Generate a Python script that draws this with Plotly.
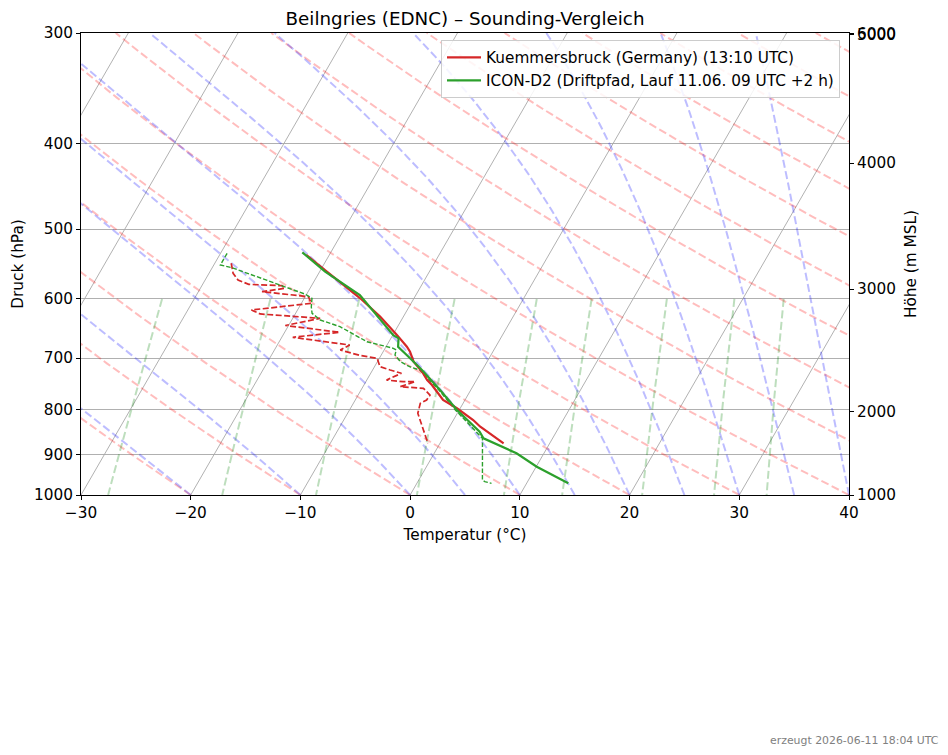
import numpy as np
import plotly.graph_objects as go

# ---------------- data ----------------
obs_p = [535.0, 542.0, 556.4, 598.9, 628.4, 659.3, 679.5, 688.4, 706.5, 725.2, 741.1,
         750.8, 780.7, 797.7, 822.5, 837.0, 874.0]
obs_t = [-22.1, -21.3, -19.6, -14.9, -12.1, -9.6, -8.1, -7.55, -6.7, -5.4, -4.5,
         -3.8, -2.0, -0.3, 1.8, 2.8, 5.8]

obs_td_p = [546.7, 561.2, 571.1, 577.5, 579.6, 583.5, 588.7, 594.0, 596.4, 606.8,
            617.5, 623.9, 631.0, 642.9, 650.5, 654.4, 663.0, 670.7, 676.5, 685.3,
            695.2, 700.3, 715.8, 722.0, 728.2, 741.1, 744.3, 744.3, 754.1, 757.3,
            770.8, 780.7, 787.4, 808.2, 837.0, 855.4, 874.0]
obs_td = [-28.5, -27.8, -27.0, -25.8, -22.7, -22.3, -24.2, -21.3, -19.7, -19.1,
          -24.2, -23.2, -17.5, -20.3, -16.6, -15.0, -19.0, -16.0, -13.4, -14.0,
          -11.9, -10.2, -9.5, -8.4, -7.2, -8.2, -6.6, -5.5, -6.6, -4.4,
          -3.45, -3.5, -3.9, -3.6, -2.5, -1.8, -1.1]

icon_p = [531.3, 558.8, 594.0, 630.5, 659.3, 664.8, 679.5, 700.3, 722.0, 760.6,
          801.3, 847.9, 862.6, 897.0, 928.9, 970.0]
icon_t = [-22.6, -19.5, -15.1, -12.2, -9.95, -9.3, -8.9, -7.2, -5.5, -2.8,
          -0.2, 3.0, 3.7, 7.5, 10.05, 13.8]

icon_td_p = [532.7, 549.2, 553.0, 592.7, 598.9, 612.7, 622.8, 633.8, 644.9, 670.7,
             682.3, 685.3, 694.3, 706.5, 715.8, 722.0, 760.6, 801.3, 862.6, 866.5,
             961.7, 965.9, 970.0]
icon_td = [-29.4, -29.4, -28.2, -20.1, -19.3, -18.9, -18.5, -17.4, -15.25, -12.0,
           -9.25, -8.9, -8.75, -7.9, -6.8, -5.7, -2.9, -0.35, 3.6, 3.7,
           5.8, 6.1, 6.8]

pressure_ticks = [300, 400, 500, 600, 700, 800, 900, 1000]
temp_ticks = [-30, -20, -10, 0, 10, 20, 30, 40]
height_labels = [1000, 2000, 3000, 4000, 5000, 6000]
height_label_p = [1000.0, 805.4, 584.6, 421.0, 301.0, 300.6]

isotherm_t = list(range(-100, 50, 10))
dry_t0 = list(range(-30, 241, 10))
moist_t0 = [-30, -20, -10, 0, 5, 10, 15, 20, 25, 30, 35, 40]
mixing_ratios = [0.0004, 0.001, 0.002, 0.004, 0.007, 0.01, 0.016, 0.024, 0.032]

# ---------------- layout geometry ----------------
W, H = 948, 755
ML, MR, MT, MB = 81, 99, 33, 260
PW, PH = W - ML - MR, H - MT - MB
XMIN, XMAX = -30, 40
PBOT, PTOP = 1000.0, 300.0
# skew of 30 degrees in display space
SKEW = np.tan(np.radians(30)) * PH / (PW / (XMAX - XMIN)) / np.log10(PBOT / PTOP)


def sx(t, p):
    return np.asarray(t, float) + SKEW * np.log10(PBOT / np.asarray(p, float))


# ---------------- thermodynamics ----------------
Rd, Cp, Lv, EPS = 287.04749, 1004.6662, 2.50084e6, 0.6219569
KAPPA = Rd / Cp


def es(tk):
    return 6.112 * np.exp(17.67 * (tk - 273.15) / (tk - 29.65))


def moist_rate(tk, p):
    e = es(tk)
    rs = EPS * e / (p - e)
    num = Rd * tk + Lv * rs
    den = Cp + Lv * Lv * rs * EPS / (Rd * tk * tk)
    return num / den / p


def moist_adiabat(t0c, plevels):
    out = [t0c + 273.15]
    tk = t0c + 273.15
    for i in range(1, len(plevels)):
        p0, p1 = plevels[i - 1], plevels[i]
        h = p1 - p0
        k1 = moist_rate(tk, p0)
        k2 = moist_rate(tk + 0.5 * h * k1, p0 + 0.5 * h)
        k3 = moist_rate(tk + 0.5 * h * k2, p0 + 0.5 * h)
        k4 = moist_rate(tk + h * k3, p1)
        tk = tk + h / 6 * (k1 + 2 * k2 + 2 * k3 + k4)
        out.append(tk)
    return np.array(out) - 273.15


fig = go.Figure()

# isotherms (skewed x grid)
for t in isotherm_t:
    pp = np.array([PBOT, PTOP])
    fig.add_trace(go.Scatter(x=sx([t, t], pp), y=pp, mode="lines",
                             line=dict(color="#a8a8a8", width=0.9),
                             showlegend=False, hoverinfo="skip"))

plev = np.linspace(PBOT, PTOP, 141)
BG_DASH = "8px,3.5px"
for t0 in dry_t0:
    tt = (t0 + 273.15) * (plev / 1000.0) ** KAPPA - 273.15
    fig.add_trace(go.Scatter(x=sx(tt, plev), y=plev, mode="lines",
                             line=dict(color="rgba(255,0,0,0.26)", width=2, dash=BG_DASH),
                             showlegend=False, hoverinfo="skip"))

pfine = np.linspace(PBOT, PTOP, 701)
for t0 in moist_t0:
    tt = moist_adiabat(t0, pfine)
    fig.add_trace(go.Scatter(x=sx(tt, pfine)[::5], y=pfine[::5], mode="lines",
                             line=dict(color="rgba(0,0,255,0.26)", width=2, dash=BG_DASH),
                             showlegend=False, hoverinfo="skip"))

pmix = np.linspace(600, 1000, 41)
for w in mixing_ratios:
    e = pmix * w / (EPS + w)
    lnr = np.log(e / 6.112)
    td = 243.5 * lnr / (17.67 - lnr)
    fig.add_trace(go.Scatter(x=sx(td, pmix), y=pmix, mode="lines",
                             line=dict(color="rgba(0,128,0,0.26)", width=2, dash=BG_DASH),
                             showlegend=False, hoverinfo="skip"))

RED, GREEN = "#d62728", "#2ca02c"
fig.add_trace(go.Scatter(x=sx(obs_td, obs_td_p), y=obs_td_p, mode="lines",
                         line=dict(color=RED, width=1.7, dash="6px,2.5px"),
                         showlegend=False, hoverinfo="skip"))
fig.add_trace(go.Scatter(x=sx(icon_td, icon_td_p), y=icon_td_p, mode="lines",
                         line=dict(color=GREEN, width=1.4, dash="4.5px,2px"),
                         showlegend=False, hoverinfo="skip"))
fig.add_trace(go.Scatter(x=sx(obs_t, obs_p), y=obs_p, mode="lines",
                         line=dict(color=RED, width=2.2),
                         name="Kuemmersbruck (Germany) (13:10 UTC)"))
fig.add_trace(go.Scatter(x=sx(icon_t, icon_p), y=icon_p, mode="lines",
                         line=dict(color=GREEN, width=2.2),
                         name="ICON-D2 (Driftpfad, Lauf 11.06. 09 UTC +2 h)"))

# anchor trace for secondary axis
fig.add_trace(go.Scatter(x=[XMIN, XMIN], y=[PBOT, PTOP], yaxis="y2", mode="lines",
                         line=dict(color="rgba(0,0,0,0)", width=0),
                         showlegend=False, hoverinfo="skip"))

FONT = "DejaVu Sans"
FS = 15.3
axis_common = dict(showline=True, linecolor="black", linewidth=1, ticks="outside",
                   ticklen=4, tickwidth=1, tickcolor="black", zeroline=False,
                   tickfont=dict(family=FONT, size=FS, color="black"))

fig.update_layout(
    width=W, height=H, margin=dict(l=ML, r=MR, t=MT, b=MB),
    paper_bgcolor="white", plot_bgcolor="white",
    font=dict(family=FONT, size=FS, color="black"),
    title=dict(text="Beilngries (EDNC) – Sounding-Vergleich", x=0.5, xref="paper",
               xanchor="center", y=1 - 19 / H, yref="container", yanchor="middle",
               font=dict(family=FONT, size=18.3, color="black")),
    xaxis=dict(range=[XMIN, XMAX], tickvals=temp_ticks,
               ticktext=[("\u2212" + str(-v)) if v < 0 else str(v) for v in temp_ticks],
               showgrid=False, mirror=True,
               title=dict(text="Temperatur (°C)", standoff=7,
                          font=dict(family=FONT, size=FS)),
               **axis_common),
    yaxis=dict(type="log", range=[np.log10(PBOT), np.log10(PTOP)],
               tickvals=pressure_ticks, ticktext=[str(v) for v in pressure_ticks],
               showgrid=True, gridcolor="#b0b0b0", gridwidth=0.9, mirror=True,
               title=dict(text="Druck (hPa)", standoff=6,
                          font=dict(family=FONT, size=FS)),
               **axis_common),
    yaxis2=dict(type="log", range=[np.log10(PBOT), np.log10(PTOP)], overlaying="y",
                side="right", tickvals=height_label_p,
                ticktext=[str(v) for v in height_labels], showgrid=False,
                title=dict(text="Höhe (m MSL)", standoff=10,
                           font=dict(family=FONT, size=FS)),
                **axis_common),
    legend=dict(x=(840 - ML) / PW, y=(MT + PH - 40) / PH, xanchor="right", yanchor="top",
                bgcolor="rgba(255,255,255,0.85)", bordercolor="#cccccc", borderwidth=1,
                font=dict(family=FONT, size=FS, color="black"), itemwidth=34,
                tracegroupgap=0),
    annotations=[dict(text="erzeugt 2026-06-11 18:04 UTC", xref="paper", yref="paper",
                      x=(941 - ML) / PW, y=(MT + PH - 740) / PH, xanchor="right",
                      yanchor="middle", showarrow=False,
                      font=dict(family=FONT, size=10.9, color="#808080"))],
)

fig.write_html("out.html")
